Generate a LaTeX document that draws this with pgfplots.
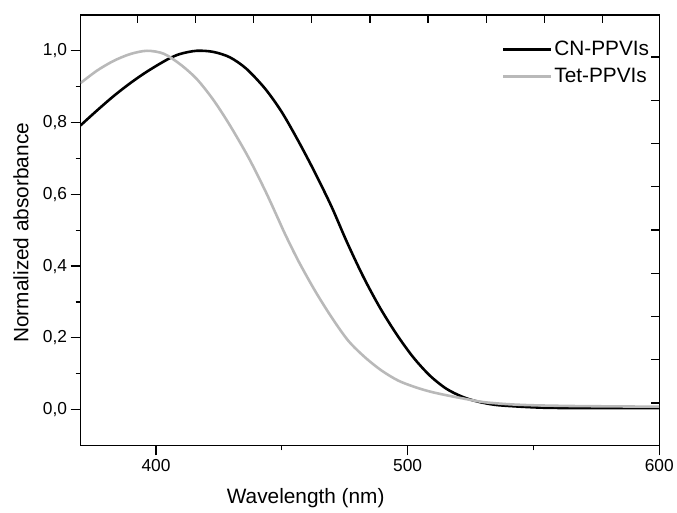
\documentclass[border=0pt]{standalone}
\usepackage{fontspec}
\setmainfont{Liberation Sans}
\usepackage{pgfplots}
\pgfplotsset{compat=1.18}
\definecolor{tetgray}{RGB}{185,185,185}
\begin{document}
\begin{tikzpicture}
\begin{axis}[name=main, scale only axis, width=582bp, height=433bp,
 xmin=370, xmax=600, ymin=-0.1, ymax=1.1,
 xtick={400,500,600}, minor xtick={450,550},
 ytick={0,0.2,0.4,0.6,0.8,1.0}, minor ytick={0.1,0.3,0.5,0.7,0.9},
 tick pos=left, tick align=outside,
 major tick length=10bp, minor tick length=5bp,
 every tick/.style={black, line width=1.3bp},
 axis line style={line width=1.3bp},
 /pgf/number format/assume math mode=true,
 ticklabel style={font=\fontsize{17.5}{20}\selectfont},
 yticklabel style={/pgf/number format/.cd, use comma, fixed, fixed zerofill, precision=1},
 xticklabel style={/pgf/number format/.cd, fixed, precision=0},
 xlabel={Wavelength (nm)}, ylabel={Normalized absorbance},
 label style={font=\fontsize{21}{25}\selectfont},
 xlabel style={at={(axis description cs:0.389,-0.1224)}, anchor=center},
 ylabel style={at={(axis description cs:-0.1031,0.494)}, anchor=center},
 legend style={draw=none, fill=none, at={(rel axis cs:0.9863,0.9434)}, anchor=north east,
   inner sep=0pt, font=\fontsize{21}{25}\selectfont, row sep=7bp,
   nodes={inner sep=2bp}},
 legend cell align=left,
 legend image code/.code={\draw[#1] (0bp,0bp) -- (48bp,0bp);},
]
\addplot[black, line width=2.6bp, smooth] coordinates {
(370,0.792) (376.6,0.834) (383.2,0.874) (389.8,0.910) (396.4,0.942) (404.3,0.975)
(409.5,0.991) (416.1,1.000) (422.7,0.997) (429.3,0.982) (435.9,0.950) (443.4,0.894)
(450.0,0.829) (456.6,0.748) (463.2,0.660) (469.8,0.565) (475.8,0.468) (482.4,0.370)
(489.0,0.284) (495.6,0.210) (502.2,0.146) (508.8,0.095) (515.4,0.058) (522,0.035)
(528,0.022) (535,0.013) (545,0.008) (555,0.005) (570,0.004) (585,0.004) (600,0.004)
};
\addlegendentry{CN-PPVIs}
\addplot[tetgray, line width=2.6bp, smooth] coordinates {
(370,0.910) (376.6,0.945) (383.2,0.972) (389.8,0.991) (396.4,1.000) (403.0,0.992)
(409.5,0.963) (416.1,0.922) (422.7,0.864) (429.3,0.793) (436.8,0.702) (443.4,0.610)
(448.0,0.540) (451.3,0.489) (456.6,0.414) (463.2,0.331) (469.8,0.257) (476.4,0.192)
(483.0,0.146) (489.6,0.109) (496.2,0.081) (502.8,0.063) (509,0.050) (515.4,0.040)
(522,0.031) (530,0.021) (540,0.015) (550,0.012) (565,0.010) (580,0.009) (600,0.008)
};
\addlegendentry{Tet-PPVIs}
\end{axis}
\begin{axis}[at={(main.south west)}, anchor=south west, scale only axis,
 width=582bp, height=433bp,
 xmin=370, xmax=600, ymin=-0.1, ymax=1.1,
 axis line style={draw=none},
 tick pos=right, tick align=inside,
 xtick={392.5,415.6,438.8,461.9,485,508.1,531.3,554.4,577.5},
 ytick={0.0186,0.1391,0.2596,0.3801,0.5006,0.6211,0.7416,0.8621,0.9826},
 xticklabels={}, yticklabels={},
 major tick length=8.5bp, minor tick num=0,
 every tick/.style={black, line width=1.3bp},
]
\end{axis}
\path ([shift={(-81bp,-67bp)}]main.south west) rectangle ([shift={(14bp,15bp)}]main.north east);
\end{tikzpicture}
\end{document}
